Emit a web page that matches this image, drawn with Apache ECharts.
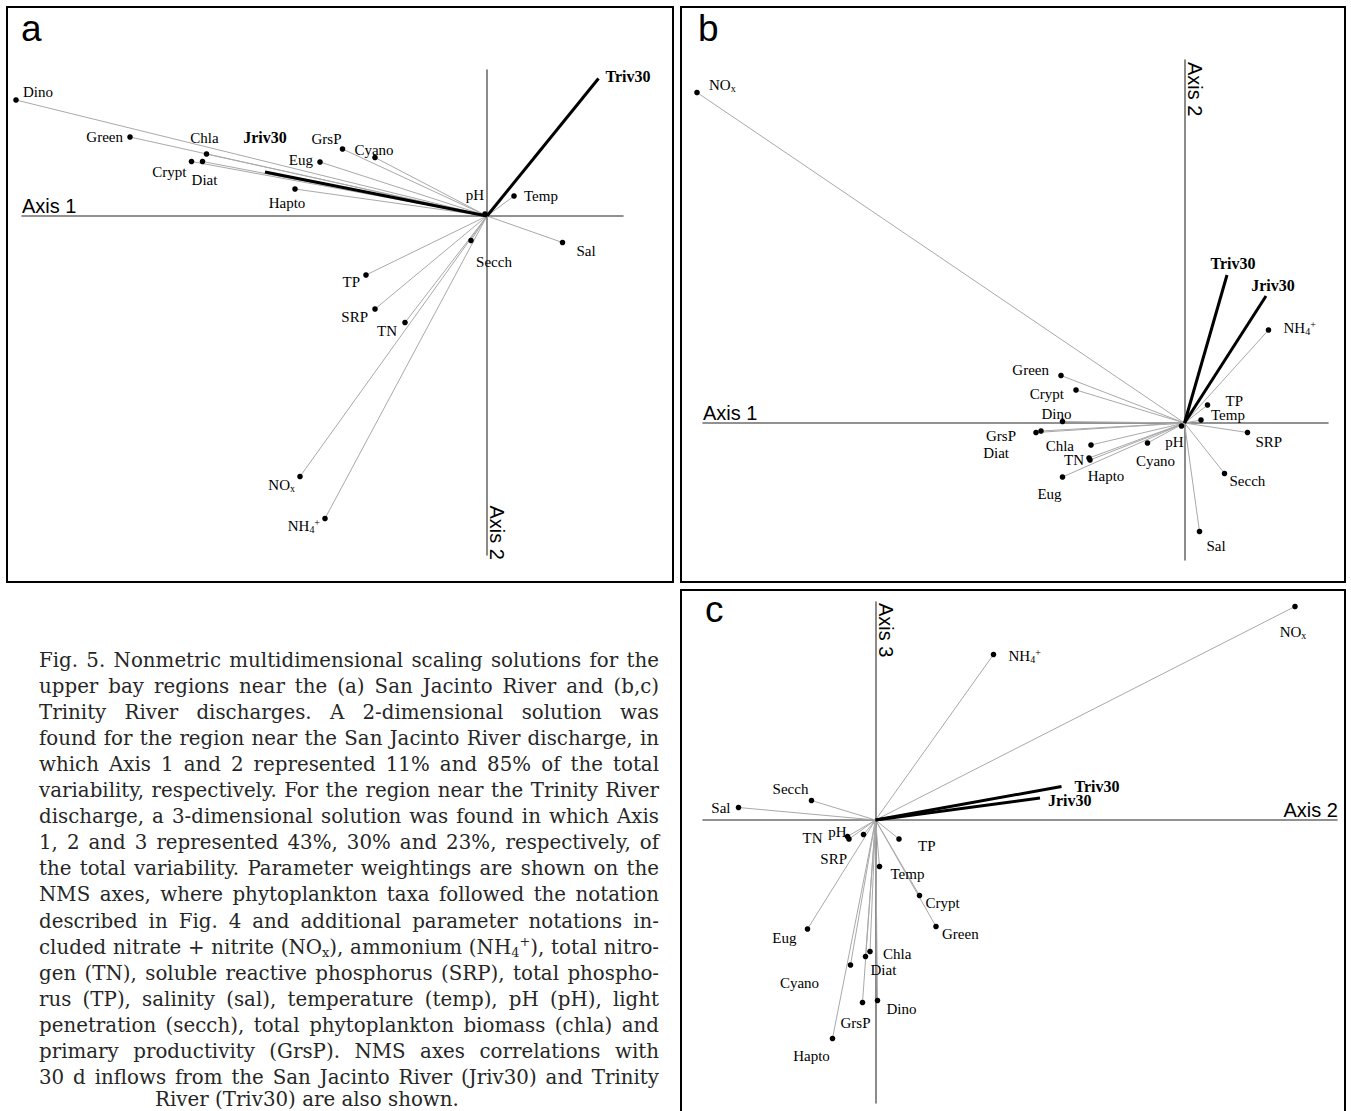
<!DOCTYPE html>
<html>
<head>
<meta charset="utf-8">
<script src="https://cdn.jsdelivr.net/npm/echarts@6/dist/echarts.min.js"></script>
<style>
html,body{margin:0;padding:0;background:#fff;}
#chart{width:1351px;height:1111px;}
</style>
</head>
<body>
<div id="chart"></div>
<script>
// ---------------- DATA ----------------
// Panel a: San Jacinto River region, NMS axis 1 (x) and axis 2 (y)
const aLabels = ['Dino','Green','Chla','Crypt','Diat','Jriv30','Hapto','Eug','GrsP','Cyano','pH','Temp','Triv30','Sal','Secch','TP','SRP','TN','NOx','NH4+'];
const aAxis1  = [-0.942,-0.714,-0.561,-0.591,-0.569,-0.444,-0.384,-0.334,-0.289,-0.224,-0.004,0.054,0.223,0.151,-0.032,-0.242,-0.224,-0.164,-0.374,-0.324];
const aAxis2  = [0.232,0.158,0.124,0.109,0.109,0.088,0.054,0.108,0.134,0.117,0.004,0.040,0.275,-0.053,-0.049,-0.118,-0.186,-0.213,-0.521,-0.605];

// Panel b: Trinity River region, NMS axis 1 (x) and axis 2 (y)
const bLabels = ['NOx','Triv30','Jriv30','NH4+','Green','Crypt','Dino','GrsP','Diat','Chla','TN','Hapto','Eug','Cyano','pH','TP','Temp','SRP','Secch','Sal'];
const bAxis1  = [-0.975,0.085,0.163,0.168,-0.247,-0.217,-0.244,-0.297,-0.287,-0.187,-0.191,-0.189,-0.244,-0.074,-0.006,0.046,0.033,0.126,0.080,0.030];
const bAxis2  = [0.661,0.296,0.254,0.186,0.095,0.066,0.003,-0.019,-0.016,-0.044,-0.070,-0.074,-0.108,-0.040,-0.006,0.036,0.006,-0.019,-0.101,-0.217];

// Panel c: Trinity River region, NMS axis 2 (x) and axis 3 (y)
const cLabels = ['NOx','NH4+','Triv30','Jriv30','Sal','Secch','TN','pH','SRP','TP','Temp','Crypt','Green','Eug','Chla','Diat','Cyano','GrsP','Dino','Hapto'];
const cAxis2  = [0.839,0.236,0.372,0.329,-0.274,-0.128,-0.056,-0.024,-0.053,0.047,0.008,0.088,0.121,-0.136,-0.011,-0.020,-0.050,-0.026,0.004,-0.086];
const cAxis3  = [0.427,0.331,0.067,0.044,0.025,0.039,-0.033,-0.029,-0.038,-0.038,-0.093,-0.151,-0.213,-0.218,-0.263,-0.273,-0.290,-0.365,-0.361,-0.437];

// Caption text lines
const captionLines = [
  'Fig. 5. Nonmetric multidimensional scaling solutions for the',
  'upper bay regions near the (a) San Jacinto River and (b,c)',
  'Trinity River discharges. A 2-dimensional solution was',
  'found for the region near the San Jacinto River discharge, in',
  'which Axis 1 and 2 represented 11% and 85% of the total',
  'variability, respectively. For the region near the Trinity River',
  'discharge, a 3-dimensional solution was found in which Axis',
  '1, 2 and 3 represented 43%, 30% and 23%, respectively, of',
  'the total variability. Parameter weightings are shown on the',
  'NMS axes, where phytoplankton taxa followed the notation',
  'described in Fig. 4 and additional parameter notations in-',
  'cluded nitrate + nitrite (NO{sub|x}), ammonium (NH{sub|4}{sup|+}), total nitro-',
  'gen (TN), soluble reactive phosphorus (SRP), total phospho-',
  'rus (TP), salinity (sal), temperature (temp), pH (pH), light',
  'penetration (secch), total phytoplankton biomass (chla) and',
  'primary productivity (GrsP). NMS axes correlations with',
  '30 d inflows from the San Jacinto River (Jriv30) and Trinity',
  'River (Triv30) are also shown.'
];

// ---------------- LABEL PLACEMENT (style) ----------------
const aLabelPos = {
  'Dino':[7,-8,'left'],'Green':[-7,0,'right'],'Chla':[-2,-16,'center'],'Crypt':[-5,10,'right'],
  'Diat':[2,18,'center'],'Jriv30':[0,-35,'center'],'Hapto':[-8,14,'center'],'Eug':[-7,-2,'right'],
  'GrsP':[-1,-10,'right'],'Cyano':[-1,-8,'center'],'pH':[-1,-19,'right'],'Temp':[10,0,'left'],
  'Triv30':[7,-2,'left'],'Sal':[14,8,'left'],'Secch':[23,21,'center'],'TP':[-6,7,'right'],
  'SRP':[-7,8,'right'],'TN':[-8,8,'right'],'NOx':[-5,8,'right'],'NH4+':[-5,7,'right']
};
const bLabelPos = {
  'NOx':[12,-8,'left'],'Triv30':[6,-12,'center'],'Jriv30':[7,-11,'center'],'NH4+':[15,-2,'left'],
  'Green':[-12,-6,'right'],'Crypt':[-12,4,'right'],'Dino':[-6,-8,'center'],'GrsP':[-20,3,'right'],
  'Diat':[-32,22,'right'],'Chla':[-17,1,'right'],'TN':[-5,2,'right'],'Hapto':[16,16,'center'],
  'Eug':[-13,17,'center'],'Cyano':[8,18,'center'],'pH':[2,16,'right'],'TP':[18,-4,'left'],
  'Temp':[10,-5,'left'],'SRP':[8,9,'left'],'Secch':[5,7,'left'],'Sal':[7,14,'left']
};
const cLabelPos = {
  'NOx':[-2,25,'center'],'NH4+':[15,1,'left'],'Triv30':[13,0,'left'],'Jriv30':[8,2,'left'],
  'Sal':[-8,0,'right'],'Secch':[-21,-12,'center'],'TN':[-25,1,'right'],'pH':[-17,-3,'right'],
  'SRP':[-2,20,'right'],'TP':[19,7,'left'],'Temp':[11,7,'left'],'Crypt':[6,7,'left'],
  'Green':[6,7,'left'],'Eug':[-11,9,'right'],'Chla':[13,2,'left'],'Diat':[5,13,'left'],
  'Cyano':[-51,18,'center'],'GrsP':[-7,20,'center'],'Dino':[9,8,'left'],'Hapto':[-21,17,'center']
};

const BOLD = ['Jriv30','Triv30'];
const SERIF = '"Liberation Serif", "Times New Roman", serif';
const SANS = '"Liberation Sans", Arial, sans-serif';
const LABEL_RICH = {
  s:{fontSize:10, fontFamily:SERIF, lineHeight:10, verticalAlign:'bottom', fill:'#000'},
  p:{fontSize:10, fontFamily:SERIF, lineHeight:10, verticalAlign:'top', fill:'#000'}
};
function richName(n){
  if(n === 'NOx') return 'NO{s|x}';
  if(n === 'NH4+') return 'NH{s|4}{p|+}';
  return n;
}

function lineRender(names){
  return function(params, api){
    const n = names[params.dataIndex];
    const o = api.coord([0,0]);
    const p = api.coord([api.value(0), api.value(1)]);
    const bold = BOLD.indexOf(n) >= 0;
    return {
      type:'line', z2: bold ? 5 : 1,
      shape:{x1:o[0], y1:o[1], x2:p[0], y2:p[1]},
      style:{stroke: bold ? '#000' : '#a9a9a9', lineWidth: bold ? 3 : 1}
    };
  };
}
function pointRender(names, pos){
  return function(params, api){
    const n = names[params.dataIndex];
    const p = api.coord([api.value(0), api.value(1)]);
    const bold = BOLD.indexOf(n) >= 0;
    const lp = pos[n];
    const children = [];
    if(!bold){
      children.push({type:'circle', shape:{cx:p[0], cy:p[1], r:2.8}, style:{fill:'#000'}});
    }
    children.push({
      type:'text', x:p[0] + lp[0], y:p[1] + lp[1],
      style:{
        text: richName(n), align: lp[2], verticalAlign:'middle',
        fontFamily: SERIF, fontSize: bold ? 16 : 15, fontWeight: bold ? 'bold' : 'normal',
        lineHeight: 17, fill:'#000', rich: LABEL_RICH
      }
    });
    return {type:'group', children: children};
  };
}

const panels = [
  {names:aLabels, xs:aAxis1, ys:aAxis2, pos:aLabelPos},
  {names:bLabels, xs:bAxis1, ys:bAxis2, pos:bLabelPos},
  {names:cLabels, xs:cAxis2, ys:cAxis3, pos:cLabelPos}
];

const series = [];
panels.forEach(function(pn, i){
  const data = pn.names.map(function(n, k){ return {name:n, value:[pn.xs[k], pn.ys[k]]}; });
  series.push({type:'custom', name:'vectors'+i, xAxisIndex:i, yAxisIndex:i, clip:false, silent:true,
    data:data, encode:{x:0, y:1}, renderItem: lineRender(pn.names), z:2});
  series.push({type:'custom', name:'points'+i, xAxisIndex:i, yAxisIndex:i, clip:false, silent:true,
    data:data, encode:{x:0, y:1}, renderItem: pointRender(pn.names, pn.pos), z:3});
});

const AXIS_LINE = {onZero:true, lineStyle:{color:'#6e6e6e', width:1.6}};
function axisBase(idx, min, max){
  return {gridIndex:idx, type:'value', min:min, max:max, axisLine:AXIS_LINE,
    axisTick:{show:false}, axisLabel:{show:false}, splitLine:{show:false}};
}
const nameStyle = function(align, vAlign){
  return {fontFamily:SANS, fontSize:20, color:'#000', align:align, verticalAlign:vAlign};
};

const xAxes = [
  Object.assign(axisBase(0, -0.93, 0.272), {name:'Axis 1', nameLocation:'start', nameGap:0, nameTextStyle:nameStyle('left','bottom')}),
  Object.assign(axisBase(1, -0.963, 0.287), {name:'Axis 1', nameLocation:'start', nameGap:0, nameTextStyle:nameStyle('left','bottom')}),
  Object.assign(axisBase(2, -0.345, 0.923), {name:'Axis 2', nameLocation:'end', nameGap:1, nameTextStyle:nameStyle('right','bottom')})
];
const yAxes = [
  Object.assign(axisBase(0, -0.678, 0.292), {name:'Axis 2', nameLocation:'start', nameGap:5, nameRotate:-90, nameTextStyle:nameStyle('right','bottom')}),
  Object.assign(axisBase(1, -0.274, 0.726), {name:'Axis 2', nameLocation:'end', nameGap:-2, nameRotate:-90, nameTextStyle:nameStyle('left','bottom')}),
  Object.assign(axisBase(2, -0.566, 0.436), {name:'Axis 3', nameLocation:'end', nameGap:-1, nameRotate:-90, nameTextStyle:nameStyle('left','bottom')})
];

// ---------------- CAPTION (justified, horizontally condensed) ----------------
const CAP_FAMILY = '"DejaVu Serif", serif';
const CAP_FS = 20, SUB_FS = 13;
const CAP_LEFT = 39, CAP_WIDTH = 620, CAP_TOP = 660, CAP_STEP = 26.1, LAST_LEFT = 155, LAST_Y = 1099;
const CAP_COLOR = '#262626';
const mctx = document.createElement('canvas').getContext('2d');
function tw(s, size){ mctx.font = size + 'px ' + CAP_FAMILY; return mctx.measureText(s).width; }
const capScale = Math.min(1, 606 / tw(captionLines[0], CAP_FS));
const capRich = {
  sub:{fontSize:SUB_FS, fontFamily:CAP_FAMILY, lineHeight:SUB_FS, verticalAlign:'bottom', fill:CAP_COLOR},
  sup:{fontSize:SUB_FS, fontFamily:CAP_FAMILY, lineHeight:SUB_FS, verticalAlign:'top', fill:CAP_COLOR}
};
function wordWidth(w){
  const re = /\{(sub|sup)\|([^}]*)\}/g;
  let last = 0, m, width = 0;
  while((m = re.exec(w)) !== null){
    width += tw(w.slice(last, m.index), CAP_FS);
    width += tw(m[2], SUB_FS);
    last = re.lastIndex;
  }
  width += tw(w.slice(last), CAP_FS);
  return width * capScale;
}
function capText(x, y, t){
  return {type:'text', x:x, y:y, scaleX:capScale, scaleY:1, silent:true, style:{
    text:t, fontFamily:CAP_FAMILY, fontSize:CAP_FS, lineHeight:24, fill:CAP_COLOR,
    align:'left', verticalAlign:'middle', rich:capRich}};
}
const captionGraphics = [];
captionLines.forEach(function(line, i){
  if(i === captionLines.length - 1){
    captionGraphics.push(capText(LAST_LEFT, LAST_Y, line));
    return;
  }
  const y = CAP_TOP + i * CAP_STEP;
  const words = line.split(' ');
  const ws = words.map(wordWidth);
  const total = ws.reduce(function(a,b){return a+b;}, 0);
  const gap = (CAP_WIDTH - total) / (words.length - 1);
  let x = CAP_LEFT;
  words.forEach(function(w, k){
    captionGraphics.push(capText(x, y, w));
    x += ws[k] + gap;
  });
});

const frames = [
  {type:'rect', shape:{x:7, y:7, width:666, height:575}, style:{fill:'none', stroke:'#000', lineWidth:2}, silent:true},
  {type:'rect', shape:{x:681, y:7, width:664, height:575}, style:{fill:'none', stroke:'#000', lineWidth:2}, silent:true},
  {type:'rect', shape:{x:681, y:590, width:664, height:560}, style:{fill:'none', stroke:'#000', lineWidth:2}, silent:true}
];

const letterStyle = {fontFamily:SANS, fontSize:37, fontWeight:'normal', color:'#000'};
const option = {
  animation:false,
  backgroundColor:'#fff',
  title:[
    {text:'a', left:21, top:10, padding:0, textStyle:letterStyle},
    {text:'b', left:698, top:10, padding:0, textStyle:letterStyle},
    {text:'c', left:705, top:591, padding:0, textStyle:letterStyle}
  ],
  grid:[
    {left:22, top:70, width:601, height:485},
    {left:703, top:60, width:625, height:500},
    {left:703, top:602, width:634, height:501}
  ],
  xAxis:xAxes,
  yAxis:yAxes,
  series:series,
  graphic:frames.concat(captionGraphics)
};

const chart = echarts.init(document.getElementById('chart'), null, {renderer:'svg'});
chart.setOption(option);
</script>
</body>
</html>
